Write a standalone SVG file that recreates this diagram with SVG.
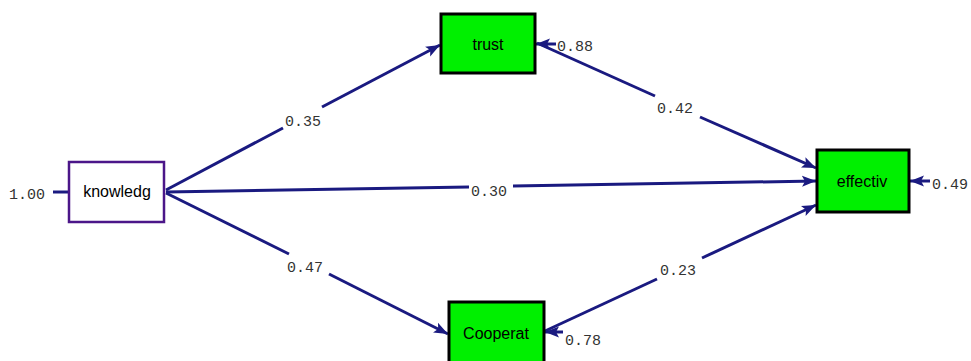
<svg xmlns="http://www.w3.org/2000/svg" width="971" height="361" viewBox="0 0 971 361">
<defs>
<marker id="ah" markerUnits="userSpaceOnUse" markerWidth="16" markerHeight="12" refX="14" refY="6" orient="auto">
<path d="M0,0.5 L14,6 L0,11.5 L3,6 Z" fill="#1a1a80"/>
</marker>
</defs>
<style>
.bg{fill:#ffffff}
.obs{fill:#00f000;stroke:#000000;stroke-width:3}
.exo{fill:#ffffff;stroke:#4b1689;stroke-width:2.5}
.nt{font-family:"Liberation Sans",Arial,sans-serif;font-size:16px;fill:#000;text-anchor:middle}
.lbl{font-family:"Liberation Mono","Courier New",monospace;font-size:15px;fill:#333}
.ln{stroke:#1a1a80;stroke-width:3;fill:none}
</style>
<rect class="bg" x="0" y="0" width="971" height="361"/>
<g id="connectors">
<line class="ln" x1="166" y1="190" x2="283" y2="128"/>
<line class="ln" x1="322" y1="107" x2="440" y2="45" marker-end="url(#ah)"/>
<line class="ln" x1="166" y1="192" x2="469" y2="187"/>
<line class="ln" x1="513" y1="186" x2="816" y2="181" marker-end="url(#ah)"/>
<line class="ln" x1="166" y1="193" x2="289" y2="254"/>
<line class="ln" x1="329" y1="274" x2="448" y2="334" marker-end="url(#ah)"/>
<line class="ln" x1="537" y1="43" x2="655" y2="96"/>
<line class="ln" x1="700" y1="117" x2="816" y2="168" marker-end="url(#ah)"/>
<line class="ln" x1="545" y1="331" x2="657" y2="279"/>
<line class="ln" x1="702" y1="258" x2="816" y2="205" marker-end="url(#ah)"/>
<line class="ln" x1="53" y1="192" x2="69" y2="192"/>
<line class="ln" x1="556" y1="44" x2="536" y2="44" marker-end="url(#ah)"/>
<line class="ln" x1="563" y1="332" x2="545" y2="332" marker-end="url(#ah)"/>
<line class="ln" x1="930" y1="181" x2="910" y2="181" marker-end="url(#ah)"/>
<text class="lbl" x="285" y="126">0.35</text>
<text class="lbl" x="471" y="196">0.30</text>
<text class="lbl" x="287" y="272">0.47</text>
<text class="lbl" x="657" y="113">0.42</text>
<text class="lbl" x="660" y="275">0.23</text>
</g>
<g id="knowledg">
<rect class="exo" x="69" y="162" width="95" height="60"/>
<text class="nt" x="117" y="197">knowledg</text>
<text class="lbl" x="9" y="199">1.00</text>
</g>
<g id="trust">
<rect class="obs" x="441" y="14" width="94" height="59"/>
<text class="nt" x="488" y="50">trust</text>
<text class="lbl" x="557" y="51">0.88</text>
</g>
<g id="Cooperat">
<rect class="obs" x="449" y="302" width="95" height="62"/>
<text class="nt" x="496" y="339">Cooperat</text>
<text class="lbl" x="565" y="345">0.78</text>
</g>
<g id="effectiv">
<rect class="obs" x="817" y="150" width="92" height="62"/>
<text class="nt" x="862" y="187">effectiv</text>
<text class="lbl" x="932" y="189">0.49</text>
</g>
</svg>
